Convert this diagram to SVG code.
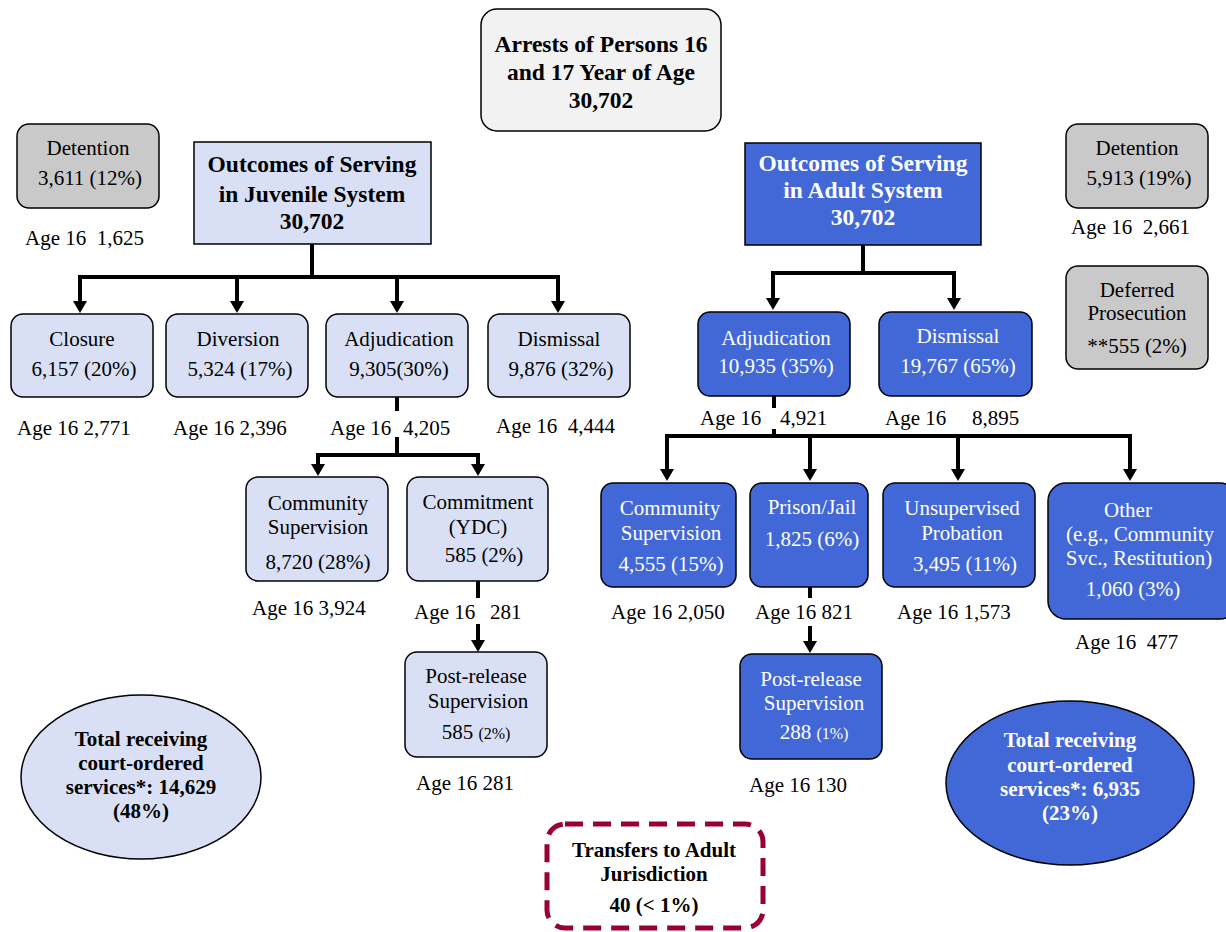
<svg xmlns="http://www.w3.org/2000/svg" width="1226" height="932" viewBox="0 0 1226 932">
<style>
text{font-family:"Liberation Serif","Times New Roman",serif;fill:#000;text-anchor:middle;white-space:pre}
.r{font-size:21px}
.s{font-size:16px}
.b{font-weight:bold;font-size:21px}
.t{font-weight:bold;font-size:23.5px}
.w{fill:#fff}
.lab{text-anchor:start;font-size:21px}
.lt{fill:#d9e0f5;stroke:#000;stroke-width:1.5}
.bl{fill:#4267d6;stroke:#000;stroke-width:1.5}
.gr{fill:#c9c9c9;stroke:#000;stroke-width:1.5}
.c{stroke:#000;stroke-width:4;fill:none}
</style>
<defs>
<marker id="ah" markerUnits="userSpaceOnUse" viewBox="0 0 12 14" markerWidth="12" markerHeight="14" refX="4" refY="7" orient="auto">
<path d="M0,0 L12,7 L0,14 z" fill="#000"/>
</marker>
</defs>
<g id="connectors">
<path class="c" d="M312,244 V277 M78,277 H560"/>
<path class="c" d="M80,277 V305" marker-end="url(#ah)"/>
<path class="c" d="M237,277 V305" marker-end="url(#ah)"/>
<path class="c" d="M397,277 V305" marker-end="url(#ah)"/>
<path class="c" d="M558,277 V305" marker-end="url(#ah)"/>
<path class="c" d="M397,397 V411 M397,437 V455 M316,455 H480"/>
<path class="c" d="M318,455 V468" marker-end="url(#ah)"/>
<path class="c" d="M478,455 V468" marker-end="url(#ah)"/>
<path class="c" d="M478,581 V598"/>
<path class="c" d="M478,624 V644" marker-end="url(#ah)"/>
<path class="c" d="M863,245 V273 M771,273 H956"/>
<path class="c" d="M773,273 V302" marker-end="url(#ah)"/>
<path class="c" d="M954,273 V302" marker-end="url(#ah)"/>
<path class="c" d="M774,396 V408 M774,429 V436 M665,436 H1132"/>
<path class="c" d="M667,436 V473" marker-end="url(#ah)"/>
<path class="c" d="M810,436 V473" marker-end="url(#ah)"/>
<path class="c" d="M958,436 V473" marker-end="url(#ah)"/>
<path class="c" d="M1130,436 V473" marker-end="url(#ah)"/>
<path class="c" d="M810,587 V598"/>
<path class="c" d="M810,626 V645" marker-end="url(#ah)"/>
</g>
<g id="arrests">
<rect x="481" y="9" width="240" height="122" rx="16" fill="#f2f2f2" stroke="#000" stroke-width="1.5"/>
<text class="t" x="601" y="52">Arrests of Persons 16</text>
<text class="t" x="601" y="80">and 17 Year of Age</text>
<text class="t" x="601" y="108">30,702</text>
</g>
<g id="detention-juv">
<rect class="gr" x="17" y="124" width="142" height="84" rx="12"/>
<text class="r" x="88" y="155">Detention</text>
<text class="r" x="90" y="185">3,611 (12%)</text>
<text class="lab" x="25" y="245">Age 16  1,625</text>
</g>
<g id="juvenile">
<rect class="lt" x="194" y="142" width="237" height="102"/>
<text class="t" x="312" y="172">Outcomes of Serving</text>
<text class="t" x="312" y="202">in Juvenile System</text>
<text class="t" x="312" y="229">30,702</text>
</g>
<g id="closure">
<rect class="lt" x="11" y="314" width="142" height="83" rx="12"/>
<text class="r" x="82" y="346">Closure</text>
<text class="r" x="84" y="376">6,157 (20%)</text>
<text class="lab" x="17" y="435">Age 16 2,771</text>
</g>
<g id="diversion">
<rect class="lt" x="166" y="314" width="142" height="83" rx="12"/>
<text class="r" x="238" y="346">Diversion</text>
<text class="r" x="240" y="376">5,324 (17%)</text>
<text class="lab" x="173" y="435">Age 16 2,396</text>
</g>
<g id="adjudication-juv">
<rect class="lt" x="326" y="314" width="142" height="83" rx="12"/>
<text class="r" x="399" y="346">Adjudication</text>
<text class="r" x="399" y="376">9,305(30%)</text>
<text class="lab" x="330" y="435">Age 16</text>
<text class="lab" x="403" y="435">4,205</text>
</g>
<g id="dismissal-juv">
<rect class="lt" x="488" y="314" width="142" height="83" rx="12"/>
<text class="r" x="559" y="346">Dismissal</text>
<text class="r" x="561" y="376">9,876 (32%)</text>
<text class="lab" x="496" y="433">Age 16  4,444</text>
</g>
<g id="community-juv">
<rect class="lt" x="246" y="477" width="142" height="104" rx="12"/>
<text class="r" x="318" y="510">Community</text>
<text class="r" x="318" y="534">Supervision</text>
<text class="r" x="318" y="569">8,720 (28%)</text>
<text class="lab" x="252" y="615">Age 16 3,924</text>
</g>
<g id="commitment">
<rect class="lt" x="407" y="477" width="141" height="104" rx="12"/>
<text class="r" x="478" y="509">Commitment</text>
<text class="r" x="478" y="534">(YDC)</text>
<text class="r" x="484" y="562">585 (2%)</text>
<text class="lab" x="414" y="619">Age 16</text>
<text class="lab" x="490" y="619">281</text>
</g>
<g id="postrelease-juv">
<rect class="lt" x="405" y="652" width="142" height="105" rx="12"/>
<text class="r" x="476" y="683">Post-release</text>
<text class="r" x="478" y="708">Supervision</text>
<text class="r" x="476" y="739">585 <tspan class="s">(2%)</tspan></text>
<text class="lab" x="416" y="790">Age 16 281</text>
</g>
<g id="total-juv">
<ellipse class="lt" cx="141" cy="777" rx="120" ry="82"/>
<text class="b" x="141" y="746">Total receiving</text>
<text class="b" x="141" y="770">court-ordered</text>
<text class="b" x="141" y="794">services*: 14,629</text>
<text class="b" x="141" y="818">(48%)</text>
</g>
<g id="transfers">
<rect x="547" y="824" width="216" height="104" rx="18" fill="#fff" stroke="#990033" stroke-width="5" stroke-dasharray="18 10"/>
<text class="b" x="654" y="857">Transfers to Adult</text>
<text class="b" x="654" y="881">Jurisdiction</text>
<text class="b" x="654" y="912">40 (&lt; 1%)</text>
</g>
<g id="adult">
<rect class="bl" x="745" y="143" width="236" height="102"/>
<text class="t w" x="863" y="171">Outcomes of Serving</text>
<text class="t w" x="863" y="198">in Adult System</text>
<text class="t w" x="863" y="225">30,702</text>
</g>
<g id="adjudication-adult">
<rect class="bl" x="698" y="312" width="152" height="84" rx="12"/>
<text class="r w" x="776" y="345">Adjudication</text>
<text class="r w" x="776" y="373">10,935 (35%)</text>
<text class="lab" x="700" y="425">Age 16</text>
<text class="lab" x="780" y="425">4,921</text>
</g>
<g id="dismissal-adult">
<rect class="bl" x="879" y="312" width="153" height="84" rx="12"/>
<text class="r w" x="958" y="343">Dismissal</text>
<text class="r w" x="958" y="373">19,767 (65%)</text>
<text class="lab" x="885" y="425">Age 16</text>
<text class="lab" x="972" y="425">8,895</text>
</g>
<g id="community-adult">
<rect class="bl" x="601" y="483" width="135" height="104" rx="12"/>
<text class="r w" x="670" y="515">Community</text>
<text class="r w" x="671" y="540">Supervision</text>
<text class="r w" x="671" y="571">4,555 (15%)</text>
<text class="lab" x="611" y="619">Age 16 2,050</text>
</g>
<g id="prison">
<rect class="bl" x="750" y="483" width="118" height="104" rx="12"/>
<text class="r w" x="812" y="514">Prison/Jail</text>
<text class="r w" x="812" y="546">1,825 (6%)</text>
<text class="lab" x="755" y="619">Age 16 821</text>
</g>
<g id="unsupervised">
<rect class="bl" x="883" y="483" width="152" height="104" rx="12"/>
<text class="r w" x="962" y="515">Unsupervised</text>
<text class="r w" x="962" y="540">Probation</text>
<text class="r w" x="965" y="571">3,495 (11%)</text>
<text class="lab" x="897" y="619">Age 16 1,573</text>
</g>
<g id="other">
<rect class="bl" x="1048" y="483" width="190" height="136" rx="18"/>
<text class="r w" x="1128" y="517">Other</text>
<text class="r w" x="1140" y="541">(e.g., Community</text>
<text class="r w" x="1139" y="565">Svc., Restitution)</text>
<text class="r w" x="1133" y="596">1,060 (3%)</text>
<text class="lab" x="1075" y="649">Age 16  477</text>
</g>
<g id="postrelease-adult">
<rect class="bl" x="740" y="654" width="142" height="105" rx="12"/>
<text class="r w" x="811" y="686">Post-release</text>
<text class="r w" x="814" y="710">Supervision</text>
<text class="r w" x="814" y="739">288 <tspan class="s w">(1%)</tspan></text>
<text class="lab" x="749" y="792">Age 16 130</text>
</g>
<g id="total-adult">
<ellipse class="bl" cx="1070" cy="783" rx="124" ry="82"/>
<text class="b w" x="1070" y="747">Total receiving</text>
<text class="b w" x="1070" y="772">court-ordered</text>
<text class="b w" x="1070" y="796">services*: 6,935</text>
<text class="b w" x="1070" y="820">(23%)</text>
</g>
<g id="detention-adult">
<rect class="gr" x="1066" y="124" width="142" height="84" rx="12"/>
<text class="r" x="1137" y="155">Detention</text>
<text class="r" x="1139" y="185">5,913 (19%)</text>
<text class="lab" x="1071" y="234">Age 16  2,661</text>
</g>
<g id="deferred">
<rect class="gr" x="1066" y="266" width="142" height="103" rx="12"/>
<text class="r" x="1137" y="297">Deferred</text>
<text class="r" x="1137" y="320">Prosecution</text>
<text class="r" x="1137" y="353">**555 (2%)</text>
</g>
</svg>
